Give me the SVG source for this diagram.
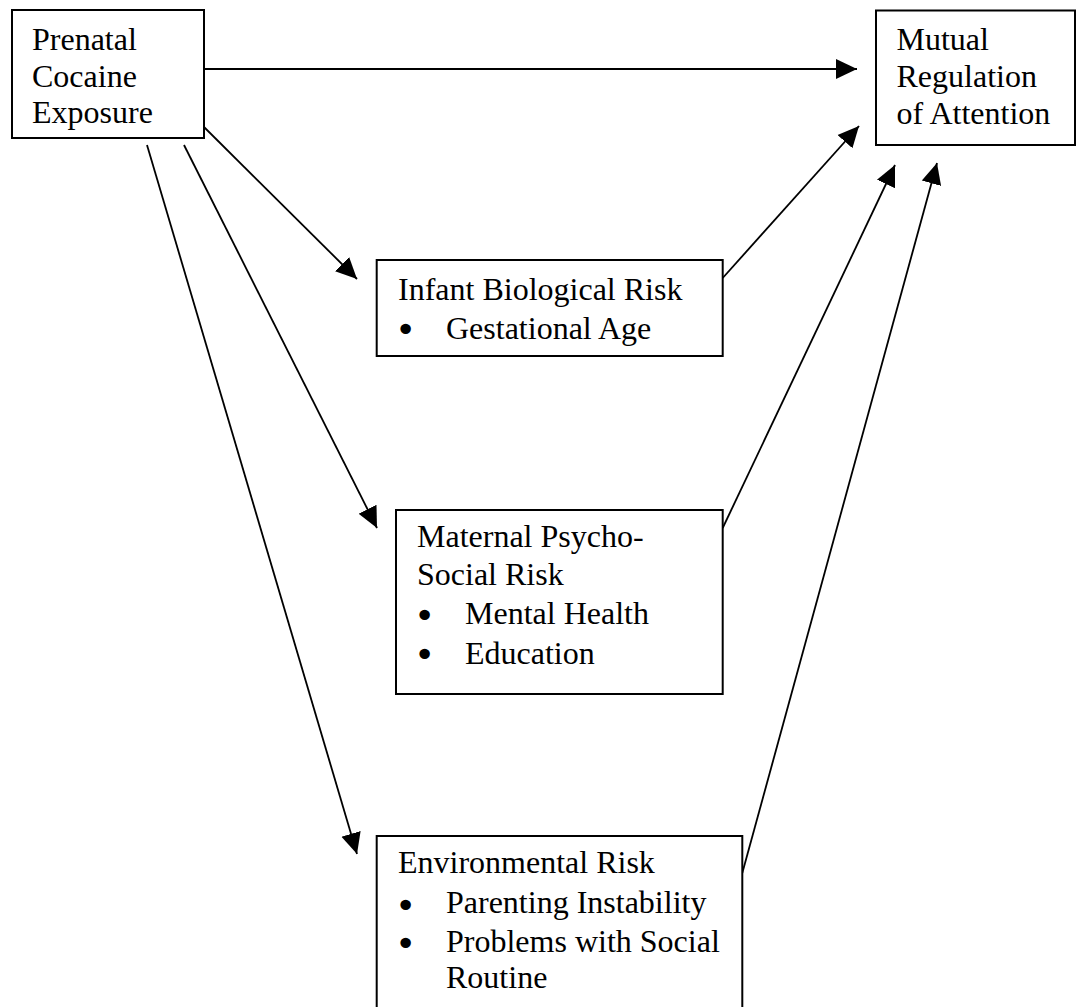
<svg xmlns="http://www.w3.org/2000/svg" width="1077" height="1007" viewBox="0 0 1077 1007">
<style>
.box{fill:#fff;stroke:#000;stroke-width:2}
.t{font-family:"Liberation Serif","Times New Roman",serif;font-size:32px;fill:#000}
.b{font-family:"DejaVu Sans",sans-serif;font-size:36px;fill:#000}
.c{fill:none;stroke:#000;stroke-width:1.8;marker-end:url(#ah)}
</style>
<defs>
<marker id="ah" markerUnits="userSpaceOnUse" markerWidth="22" markerHeight="22" refX="21" refY="10" orient="auto" viewBox="0 0 22 20">
<path d="M0,0 L21,10 L0,20 Z" fill="#000"/>
</marker>
</defs>
<rect width="1077" height="1007" fill="#fff"/>
<g id="connectors">
<line class="c" x1="204" y1="69" x2="857" y2="69"/>
<line class="c" x1="204" y1="127" x2="357" y2="279"/>
<line class="c" x1="184" y1="145" x2="377" y2="528"/>
<line class="c" x1="147" y1="145" x2="357" y2="854"/>
<line class="c" x1="722.7" y1="278" x2="859" y2="126"/>
<line class="c" x1="722.7" y1="528" x2="895" y2="165"/>
<line class="c" x1="742.3" y1="873" x2="937" y2="163"/>
</g>
<g id="prenatal">
<rect class="box" x="12" y="10" width="192" height="128"/>
<text class="t" x="32" y="50">Prenatal</text>
<text class="t" x="32" y="87">Cocaine</text>
<text class="t" x="32" y="123">Exposure</text>
</g>
<g id="mutual">
<rect class="box" x="876" y="10.5" width="199" height="134.5"/>
<text class="t" x="896.5" y="50">Mutual</text>
<text class="t" x="896.5" y="87">Regulation</text>
<text class="t" x="896.5" y="124">of Attention</text>
</g>
<g id="infant">
<rect class="box" x="376.7" y="260" width="346" height="96"/>
<text class="t" x="398" y="300">Infant Biological Risk</text>
<text class="b" x="395" y="341.5">•</text>
<text class="t" x="446" y="338.5">Gestational Age</text>
</g>
<g id="maternal">
<rect class="box" x="396" y="510" width="326.7" height="184"/>
<text class="t" x="417" y="546.5">Maternal Psycho-</text>
<text class="t" x="417" y="585">Social Risk</text>
<text class="b" x="414" y="628">•</text>
<text class="t" x="465" y="624">Mental Health</text>
<text class="b" x="414" y="667">•</text>
<text class="t" x="465" y="664">Education</text>
</g>
<g id="environmental">
<rect class="box" x="376.7" y="836" width="365.6" height="180"/>
<text class="t" x="398" y="873">Environmental Risk</text>
<text class="b" x="395" y="917.5">•</text>
<text class="t" x="446" y="913">Parenting Instability</text>
<text class="b" x="395" y="955.5">•</text>
<text class="t" x="446" y="951.5">Problems with Social</text>
<text class="t" x="446" y="988">Routine</text>
</g>
</svg>
